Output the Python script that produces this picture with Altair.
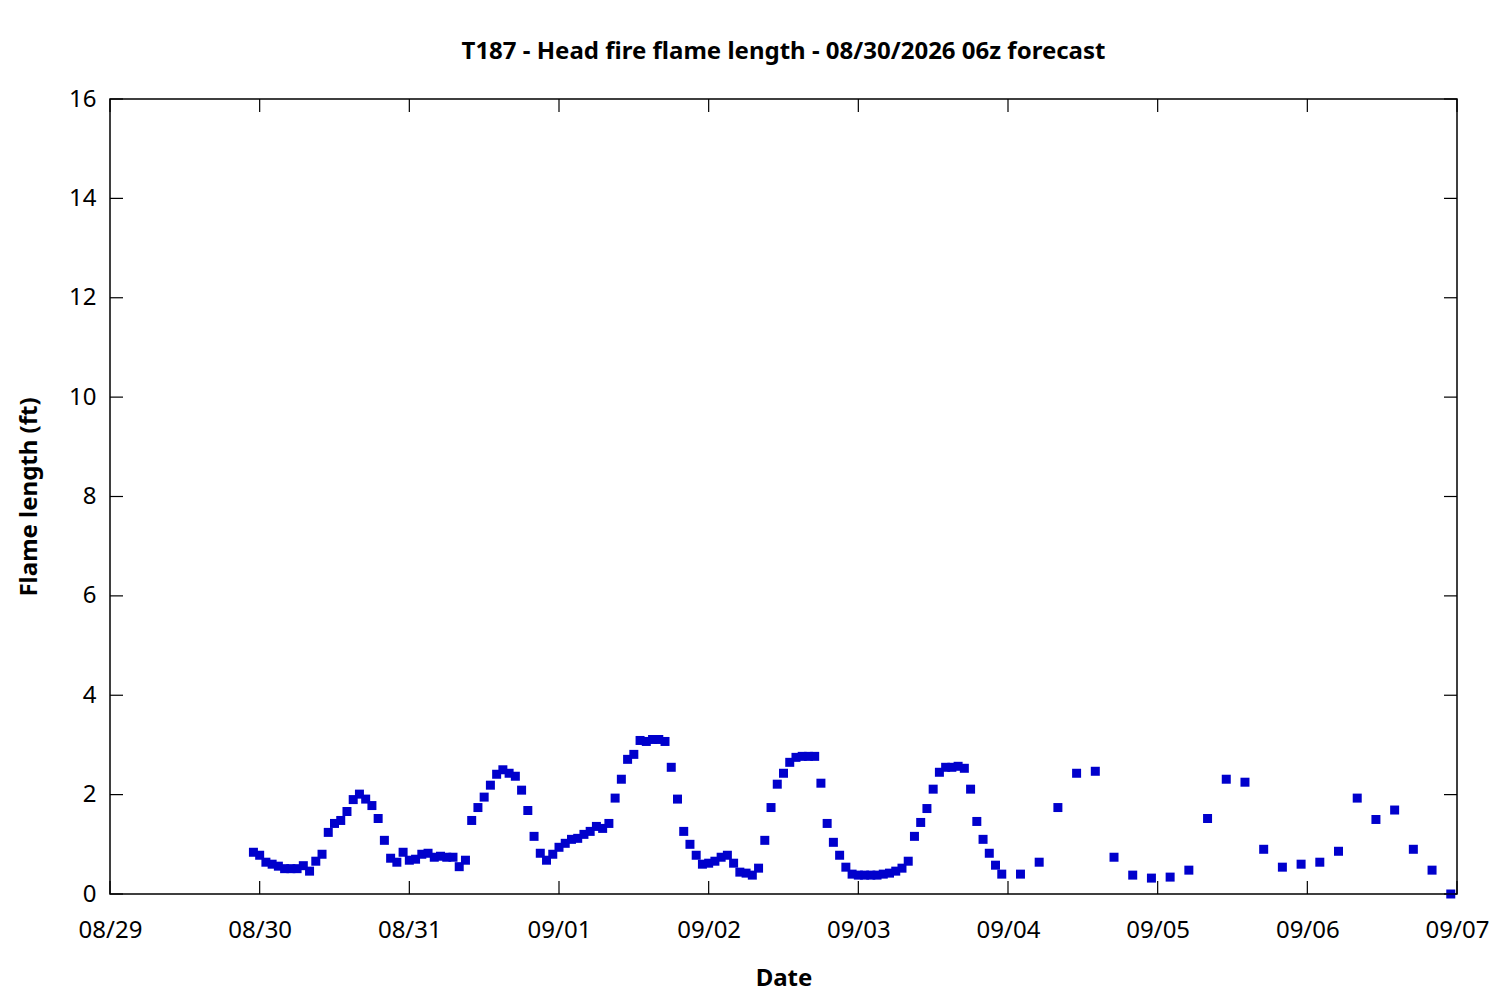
import altair as alt
import pandas as pd

# Forecast start (first hourly point) and values
start = pd.Timestamp("2026-08-29 23:00")

hourly_values = [
    0.84, 0.78, 0.64, 0.60, 0.56, 0.51, 0.51, 0.51, 0.57, 0.46, 0.66, 0.80,
    1.24, 1.42, 1.48, 1.66, 1.90, 2.01, 1.91, 1.78, 1.52, 1.08, 0.72, 0.64, 0.84,
    0.68, 0.70, 0.80, 0.82, 0.74, 0.76, 0.74, 0.74, 0.55, 0.68,
    1.48, 1.74, 1.95, 2.19, 2.41, 2.50, 2.43, 2.37, 2.09, 1.68, 1.16, 0.82, 0.68,
    0.80, 0.94, 1.02, 1.10, 1.12, 1.20, 1.26, 1.36, 1.32, 1.42,
    1.93, 2.31, 2.71, 2.81, 3.09, 3.07, 3.11, 3.11, 3.07, 2.55, 1.91,
    1.26, 1.00, 0.78, 0.60, 0.62, 0.66, 0.74, 0.78, 0.62, 0.44, 0.42, 0.38, 0.52,
    1.08, 1.74, 2.21, 2.43, 2.65, 2.75, 2.77, 2.77, 2.77, 2.23,
    1.42, 1.04, 0.78, 0.54, 0.40, 0.38, 0.38, 0.38, 0.38,
    0.40, 0.42, 0.46, 0.52, 0.66, 1.16, 1.44, 1.72, 2.11,
    2.45, 2.55, 2.55, 2.57, 2.53, 2.11, 1.46, 1.10, 0.82, 0.58, 0.40,
]

three_hourly_values = [
    0.40, 0.64, 1.74, 2.43, 2.47, 0.74, 0.38, 0.32, 0.34, 0.48, 1.52, 2.31,
    2.25, 0.90, 0.54, 0.60, 0.64, 0.86, 1.93, 1.50, 1.69, 0.90, 0.48, 0.00,
]

x_tick_labels = ["08/29", "08/30", "08/31", "09/01", "09/02", "09/03",
                 "09/04", "09/05", "09/06", "09/07"]
y_ticks = [0, 2, 4, 6, 8, 10, 12, 14, 16]

title_text = "T187 - Head fire flame length - 08/30/2026 06z forecast"

# Build table
times = [start + pd.Timedelta(hours=i) for i in range(len(hourly_values))]
last = times[-1]
times += [last + pd.Timedelta(hours=3 * (i + 1)) for i in range(len(three_hourly_values))]
df = pd.DataFrame({
    "time": [t.strftime("%Y-%m-%dT%H:%M:%S") for t in times],
    "flame": hourly_values + three_hourly_values,
})

day_dates = [f"2026-{lab[:2]}-{lab[3:]}T00:00:00" for lab in x_tick_labels]
days_df = pd.DataFrame({"time": day_dates})
yt_df = pd.DataFrame({"flame": y_ticks})

W, H = 1347, 795
FONT = "Noto Sans"
FS = 24

x_scale = alt.Scale(domain=[day_dates[0], day_dates[-1]], nice=False)
y_scale = alt.Scale(domain=[0, 16], nice=False, zero=False)

x_axis = alt.Axis(
    title="Date", format="%m/%d",
    values=[alt.DateTime(year=2026, month=int(l[:2]), date=int(l[3:])) for l in x_tick_labels],
    ticks=False, domain=False, grid=False, labelFont=FONT, labelFontSize=FS,
    labelColor="black", labelPadding=24, titleFont=FONT, titleFontSize=FS,
    titleFontWeight="bold", titleColor="black", titlePadding=24,
    labelOverlap=False, labelFlush=False,
)
y_axis = alt.Axis(
    title="Flame length (ft)", values=y_ticks, ticks=False, domain=False, grid=False,
    labelFont=FONT, labelFontSize=FS, labelColor="black", labelPadding=14,
    titleFont=FONT, titleFontSize=FS, titleFontWeight="bold", titleColor="black",
    titlePadding=27,
)

points = alt.Chart(df).mark_square(size=81, color="#0000CC", opacity=1, filled=True).encode(
    x=alt.X("time:T", scale=x_scale, axis=x_axis),
    y=alt.Y("flame:Q", scale=y_scale, axis=y_axis),
)

tick_len = 13
bottom_ticks = alt.Chart(days_df).mark_rule(color="black", strokeWidth=1.2).encode(
    x=alt.X("time:T", scale=x_scale),
    y=alt.value(H - tick_len), y2=alt.value(H),
)
top_ticks = alt.Chart(days_df).mark_rule(color="black", strokeWidth=1.2).encode(
    x=alt.X("time:T", scale=x_scale),
    y=alt.value(0), y2=alt.value(tick_len),
)
left_ticks = alt.Chart(yt_df).mark_rule(color="black", strokeWidth=1.2).encode(
    y=alt.Y("flame:Q", scale=y_scale),
    x=alt.value(0), x2=alt.value(tick_len),
)
right_ticks = alt.Chart(yt_df).mark_rule(color="black", strokeWidth=1.2).encode(
    y=alt.Y("flame:Q", scale=y_scale),
    x=alt.value(W - tick_len), x2=alt.value(W),
)

chart = alt.layer(
    points, bottom_ticks, top_ticks, left_ticks, right_ticks
).properties(
    width=W, height=H,
    title=alt.TitleParams(title_text, font=FONT, fontSize=FS, fontWeight="bold",
                          color="black", anchor="middle", offset=23),
    autosize=alt.AutoSizeParams(type="none"),
    padding={"left": 102, "top": 91, "right": 34, "bottom": 97},
).configure(
    background="white"
).configure_view(
    stroke="black", strokeWidth=1.5
)

chart.save("out.html", embed_options={"renderer": "svg", "actions": False})
